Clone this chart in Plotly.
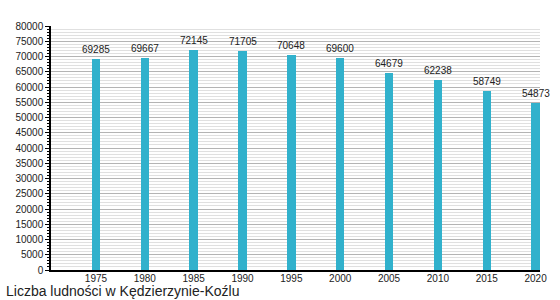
import plotly.graph_objects as go

years = [1975, 1980, 1985, 1990, 1995, 2000, 2005, 2010, 2015, 2020]
population = [69285, 69667, 72145, 71705, 70648, 69600, 64679, 62238, 58749, 54873]
caption = "Liczba ludności w Kędzierzynie-Koźlu"

fig = go.Figure()
fig.add_trace(go.Bar(
    x=years, y=population, width=0.85,
    marker=dict(color="#31b1cc", line=dict(width=0)),
    hoverinfo="skip",
))

annotations = [dict(x=yr, y=val, xref="x", yref="y", text=str(val), showarrow=False,
                    xanchor="center", yanchor="bottom", yshift=2,
                    font=dict(family="Liberation Sans, Arial", size=10, color="#222"))
               for yr, val in zip(years, population)]
annotations.append(dict(text=caption, xref="paper", yref="paper", x=-51/490, y=-30/244,
                        xanchor="left", yanchor="bottom", showarrow=False,
                        font=dict(size=14, color="#222"), xshift=4, yshift=-1))

fig.update_layout(
    width=560, height=300,
    margin=dict(l=51, r=20, t=26, b=30),
    paper_bgcolor="white", plot_bgcolor="white",
    showlegend=False,
    font=dict(family="Liberation Sans, Arial", size=10, color="#222"),
    bargap=0,
    annotations=annotations,
)
fig.update_xaxes(
    range=[1970.4, 2020.45], tickvals=years, ticktext=[str(y) for y in years],
    showgrid=False, showline=True, linecolor="black", linewidth=1.5,
    ticks="", zeroline=False, tickfont=dict(size=10), ticklabelstandoff=-2,
)
fig.update_yaxes(
    range=[0, 80000], dtick=5000, tick0=0, tickformat="d",
    showgrid=True, gridcolor="#b4b4b4", gridwidth=1,
    showline=True, linecolor="black", linewidth=1.5, ticks="outside", ticklen=4,
    tickcolor="black", zeroline=False, tickfont=dict(size=10),
    minor=dict(dtick=1000, showgrid=True, gridcolor="#e0e0e0", gridwidth=1,
               ticks="outside", ticklen=2, tickcolor="black"),
)

fig.write_html("out.html")
